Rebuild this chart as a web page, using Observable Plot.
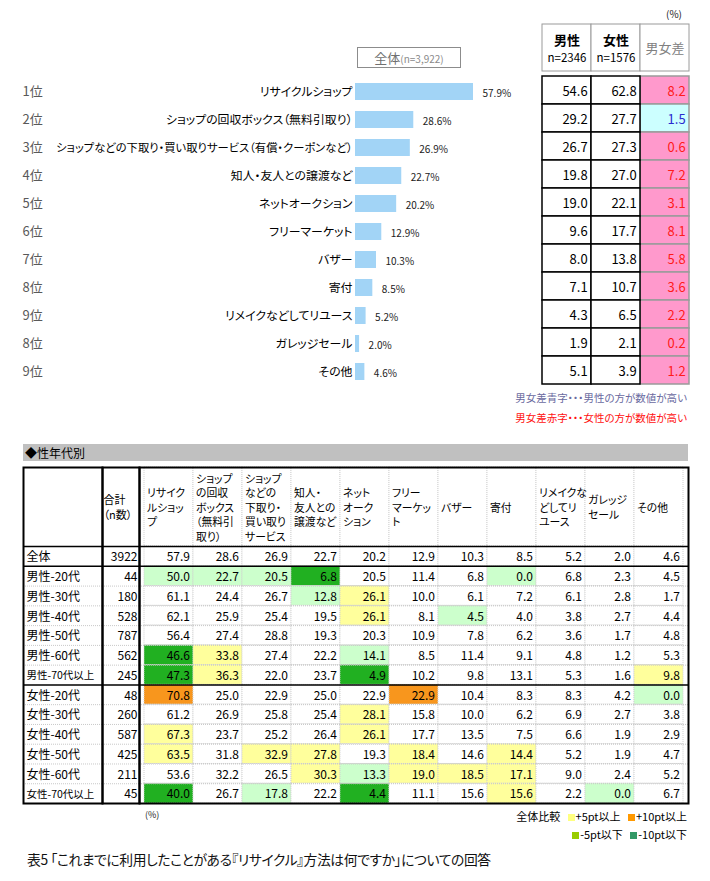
<!DOCTYPE html>
<html><head><meta charset="utf-8">
<script src="https://cdn.jsdelivr.net/npm/d3@7"></script>
<script src="https://cdn.jsdelivr.net/npm/@observablehq/plot@0.6"></script>
<style>
body{margin:0;background:#fff;}
#root{position:relative;width:710px;height:881px;font-family:"Noto Sans CJK JP",sans-serif;font-feature-settings:"palt";overflow:hidden;background:#fff;}
.abs{position:absolute;}
svg text{font-feature-settings:"palt";}
.sq{display:inline-block;width:7px;height:7px;margin-right:1px;}
</style></head><body><div id="root"></div>
<script>
// ---------- data: overall ranking ----------
const ranks = ["1位","2位","3位","4位","5位","6位","7位","8位","9位","8位","9位"];
const methods = ["リサイクルショップ","ショップの回収ボックス（無料引取り）","ショップなどの下取り・買い取りサービス（有償・クーポンなど）","知人・友人との譲渡など","ネットオークション","フリーマーケット","バザー","寄付","リメイクなどしてリユース","ガレッジセール","その他"];
const totals = [57.9,28.6,26.9,22.7,20.2,12.9,10.3,8.5,5.2,2.0,4.6];
// ---------- data: gender table ----------
const genderCols = ["男性","女性","男女差"];
const genderN = ["n=2346","n=1576",""];
const male = [54.6,29.2,26.7,19.8,19.0,9.6,8.0,7.1,4.3,1.9,5.1];
const female = [62.8,27.7,27.3,27.0,22.1,17.7,13.8,10.7,6.5,2.1,3.9];
const diffs = [8.2,1.5,0.6,7.2,3.1,8.1,5.8,3.6,2.2,0.2,1.2];
const higher = ["女","男","女","女","女","女","女","女","女","女","女"];
// ---------- data: segment table ----------
const segRows = ["全体","男性-20代","男性-30代","男性-40代","男性-50代","男性-60代","男性-70代以上","女性-20代","女性-30代","女性-40代","女性-50代","女性-60代","女性-70代以上"];
const segN = [3922,44,180,528,787,562,245,48,260,587,425,211,45];
const colLabels = ["リサイク\nルショッ\nプ","ショップ\nの回収\nボックス\n（無料引\n取り）","ショップ\nなどの\n下取り・\n買い取り\nサービス","知人・\n友人との\n譲渡など","ネット\nオーク\nション","フリー\nマーケッ\nト","バザー","寄付","リメイクな\nどしてリ\nユース","ガレッジ\nセール","その他"];
const segValues = [
[57.9,28.6,26.9,22.7,20.2,12.9,10.3,8.5,5.2,2.0,4.6],
[50.0,22.7,20.5,6.8,20.5,11.4,6.8,0.0,6.8,2.3,4.5],
[61.1,24.4,26.7,12.8,26.1,10.0,6.1,7.2,6.1,2.8,1.7],
[62.1,25.9,25.4,19.5,26.1,8.1,4.5,4.0,3.8,2.7,4.4],
[56.4,27.4,28.8,19.3,20.3,10.9,7.8,6.2,3.6,1.7,4.8],
[46.6,33.8,27.4,22.2,14.1,8.5,11.4,9.1,4.8,1.2,5.3],
[47.3,36.3,22.0,23.7,4.9,10.2,9.8,13.1,5.3,1.6,9.8],
[70.8,25.0,22.9,25.0,22.9,22.9,10.4,8.3,8.3,4.2,0.0],
[61.2,26.9,25.8,25.4,28.1,15.8,10.0,6.2,6.9,2.7,3.8],
[67.3,23.7,25.2,26.4,26.1,17.7,13.5,7.5,6.6,1.9,2.9],
[63.5,31.8,32.9,27.8,19.3,18.4,14.6,14.4,5.2,1.9,4.7],
[53.6,32.2,26.5,30.3,13.3,19.0,18.5,17.1,9.0,2.4,5.2],
[40.0,26.7,17.8,22.2,4.4,11.1,15.6,15.6,2.2,0.0,6.7]];
// comparison with 全体: 1 = +5pt, 2 = +10pt, -1 = -5pt, -2 = -10pt
const segFlags = [
[0,0,0,0,0,0,0,0,0,0,0],
[-1,-1,-1,-2,0,0,0,-1,0,0,0],
[0,0,0,-1,1,0,0,0,0,0,0],
[0,0,0,0,1,0,-1,0,0,0,0],
[0,0,0,0,0,0,0,0,0,0,0],
[-2,1,0,0,-1,0,0,0,0,0,0],
[-2,1,0,0,-2,0,0,0,0,0,1],
[2,0,0,0,0,2,0,0,0,0,-1],
[0,0,0,0,1,0,0,0,0,0,0],
[1,0,0,0,1,0,0,0,0,0,0],
[1,0,1,1,0,1,0,1,0,0,0],
[0,0,0,1,-1,1,1,1,0,0,0],
[-2,0,-1,0,-2,0,0,1,0,-1,0]];
const legendItems = [["+5pt以上","#ffff80"],["+10pt以上","#ff9900"],["-5pt以下","#99cc00"],["-10pt以下","#339966"]];

// ---------- helpers ----------
const root = document.getElementById("root");
const FONT = '"Noto Sans CJK JP", sans-serif';
function place(node, left, top) {
  const w = document.createElement("div");
  w.className = "abs"; w.style.left = left + "px"; w.style.top = top + "px";
  w.appendChild(node); root.appendChild(w); return w;
}
function html(s, left, top, css) {
  const d = document.createElement("div"); d.innerHTML = s;
  d.className = "abs"; d.style.left = left + "px"; d.style.top = top + "px";
  if (css) d.style.cssText += css;
  root.appendChild(d); return d;
}
const st = (size) => ({fontFamily: FONT, fontSize: size + "px", background: "transparent", overflow: "visible", color: "#000"});

// ---------- ranking bar chart ----------
const barRows = methods.map((m, i) => ({i, rank: ranks[i], method: m, value: totals[i]}));
place(Plot.plot({
  width: 540, height: 400, marginTop: 66.8, marginBottom: 3.7, marginLeft: 20, marginRight: 0,
  style: st(12),
  x: {domain: [0, d3.max(totals)], range: [355, 473], axis: null},
  y: {domain: barRows.map(d => d.i), padding: 0.4, axis: null},
  marks: [
    Plot.barX(barRows, {x: "value", y: "i", fill: "#a2d4f6"}),
    Plot.text(barRows, {x: "value", y: "i", text: d => d.value.toFixed(1) + "%", textAnchor: "start", dx: 9, dy: 1.5, fontSize: 10, fill: "#222"}),
    Plot.text(barRows, {x: 0, y: "i", text: "method", textAnchor: "end", dx: -3, fontSize: d => d.method.length > 25 ? 11.3 : 11.9, fill: "#000"}),
    Plot.text(barRows, {y: "i", frameAnchor: "left", text: "rank", textAnchor: "start", dx: 2, fontSize: 13, fill: "#595959"})
  ]
}), 0, 0);

html('全体<span style="font-size:10px;color:#8a8a8a">(n=3,922)</span>', 357, 47,
  "width:102px;height:19px;border:1.5px solid #8c8c8c;text-align:center;font-size:13px;line-height:19px;color:#707070;");

// ---------- gender table ----------
html("(%)", 666, 6, "font-size:10px;color:#222;");
const hdr = genderCols.map((c, k) => ({c, n: genderN[k]}));
place(Plot.plot({
  width: 150, height: 48, marginTop: 1, marginBottom: 0, marginLeft: 1, marginRight: 1,
  style: st(12),
  x: {domain: genderCols, padding: 0, axis: null},
  marks: [
    Plot.cell(hdr, {x: "c", fill: "white", stroke: "#9a9a9a"}),
    Plot.text(hdr.filter(d => d.n), {x: "c", frameAnchor: "middle", dy: -7, text: "c", fontWeight: "bold", fontSize: 13}),
    Plot.text(hdr.filter(d => d.n), {x: "c", frameAnchor: "middle", dy: 10, text: "n", fontSize: 11.5}),
    Plot.text(hdr.filter(d => !d.n), {x: "c", frameAnchor: "middle", dy: 1, text: "c", fontSize: 13, fill: "#808080"})
  ]
}), 540, 23);

const gCells = [];
male.forEach((v, i) => {
  gCells.push({row: i, col: "男性", v, h: ""});
  gCells.push({row: i, col: "女性", v: female[i], h: ""});
  gCells.push({row: i, col: "男女差", v: diffs[i], h: higher[i]});
});
const gbw = 148 / 3;
place(Plot.plot({
  width: 150, height: 320, marginTop: 1, marginBottom: 1, marginLeft: 1, marginRight: 1,
  style: st(13),
  x: {domain: genderCols, padding: 0, axis: null},
  y: {domain: male.map((_, i) => i), padding: 0, axis: null},
  marks: [
    Plot.cell(gCells.filter(d => d.h), {x: "col", y: "row", fill: d => d.h === "男" ? "#ccffff" : "#ff99cc", stroke: "#9a9a9a", strokeWidth: 1.5}),
    Plot.cell(gCells.filter(d => !d.h), {x: "col", y: "row", fill: "white", stroke: "#000", strokeWidth: 1.5}),
    Plot.text(gCells, {x: "col", y: "row", text: d => d.v.toFixed(1), textAnchor: "end", dx: gbw / 2 - 4, dy: 1, fontSize: 13,
      fill: d => d.h === "" ? "#000" : (d.h === "男" ? "#2a2ad0" : "#ff1a1a")})
  ]
}), 540, 70);

html("男女差青字・・・男性の方が数値が高い", 0, 390, "width:687px;text-align:right;font-size:10.5px;color:#6a6aa0;");
html("男女差赤字・・・女性の方が数値が高い", 0, 410, "width:687px;text-align:right;font-size:10.5px;color:#ff1010;");

// ---------- segment table ----------
html("◆性年代別", 23, 444, "width:663px;height:17px;background:#c0c0c0;font-size:12px;line-height:17px;padding-left:2px;");

const HEAD = 4; // header height in row units
const yDef = {domain: [-HEAD, segRows.length], range: [1, 337], axis: null};
const rowObjs = segRows.map((label, i) => ({i, label, n: segN[i], group: label.split("-")[0]}));
const blackB = [0, ...rowObjs.filter((d, i) => i > 0 && d.group !== rowObjs[i - 1].group).map(d => d.i)];
const grayB = rowObjs.map(d => d.i).filter(i => i > 0 && !blackB.includes(i));
const rulesFor = () => [
  Plot.ruleY(grayB, {stroke: "#c8c8c8", strokeDasharray: "1,1"}),
  Plot.ruleY(blackB, {stroke: "#000", strokeWidth: 1.5}),
  Plot.frame({stroke: "#000", strokeWidth: 2})
];
// label column
place(Plot.plot({
  width: 80, height: 338, marginTop: 1, marginBottom: 1, marginLeft: 1, marginRight: 0,
  style: st(12), y: yDef,
  marks: [
    Plot.text(rowObjs, {y: d => d.i + 0.5, frameAnchor: "left", dx: 3, dy: 1, text: "label", textAnchor: "start",
      fontSize: d => d.label.length > 6 ? 10.5 : 12}),
    ...rulesFor()
  ]
}), 22, 466);
// n column
place(Plot.plot({
  width: 37, height: 338, marginTop: 1, marginBottom: 1, marginLeft: 0, marginRight: 0,
  style: st(12), y: yDef,
  marks: [
    Plot.text(rowObjs, {y: d => d.i + 0.5, frameAnchor: "right", dx: -2, dy: 1, text: d => String(d.n), textAnchor: "end"}),
    Plot.text(["合計\n（n数）"], {y: -HEAD / 2, frameAnchor: "left", dx: 1, text: d => d, textAnchor: "start", lineAnchor: "middle", lineHeight: 1.3, fontSize: 11}),
    ...rulesFor()
  ]
}), 102, 466);
// data columns
const flagFill = {"0": "white", "1": "#ffff9c", "2": "#f8961d", "-1": "#ccffcc", "-2": "#21b021"};
const cells = [];
segValues.forEach((row, i) => row.forEach((v, j) => cells.push({row: i, col: colLabels[j], v, f: segFlags[i][j]})));
const dbw = 549 / colLabels.length;
place(Plot.plot({
  width: 549, height: 338, marginTop: 1, marginBottom: 1, marginLeft: 0, marginRight: 0,
  style: st(12),
  x: {domain: colLabels, padding: 0, axis: null},
  y: yDef,
  marks: [
    Plot.barY(colLabels, {x: d => d, y1: -HEAD, y2: 0, fill: "white", stroke: "#d0d0d0", strokeDasharray: "1,1"}),
    Plot.barY(cells, {x: "col", y1: "row", y2: d => d.row + 1, fill: d => flagFill[d.f], stroke: "#d0d0d0", strokeDasharray: "1,1"}),
    Plot.text(cells, {x: "col", y: d => d.row + 0.5, text: d => d.v.toFixed(1), textAnchor: "end", dx: dbw / 2 - 4, dy: 1}),
    Plot.text(colLabels, {x: d => d, y: -HEAD / 2, text: d => d, textAnchor: "start", dx: -dbw / 2 + 3, lineAnchor: "middle", lineHeight: 1.35, fontSize: 10.8}),
    ...rulesFor()
  ]
}), 139, 466);

html("(%)", 145, 808, "font-size:9px;color:#222;");
const sq = (c) => `<span class="sq" style="background:${c}"></span>`;
html(`全体比較&nbsp;&nbsp;&nbsp;${sq(legendItems[0][1])}${legendItems[0][0]}&nbsp;&nbsp;&nbsp;${sq(legendItems[1][1])}${legendItems[1][0]}`,
  0, 808, "width:687px;text-align:right;font-size:11px;line-height:16px;");
html(`${sq(legendItems[2][1])}${legendItems[2][0]}&nbsp;&nbsp;&nbsp;${sq(legendItems[3][1])}${legendItems[3][0]}`,
  0, 826, "width:687px;text-align:right;font-size:11px;line-height:16px;");

html("表5 「これまでに利用したことがある『リサイクル』方法は何ですか」についての回答", 27, 849,
  "font-size:13.8px;letter-spacing:-0.4px;color:#111;white-space:nowrap;");
</script></body></html>
